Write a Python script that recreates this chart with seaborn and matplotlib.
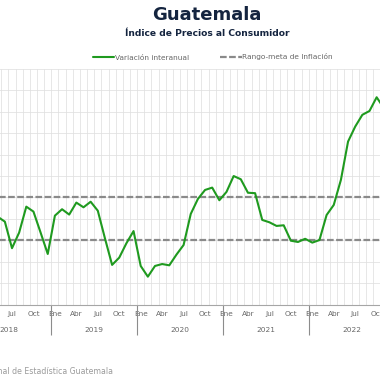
import numpy as np
import pandas as pd
import matplotlib
matplotlib.use("Agg")
import matplotlib.pyplot as plt
import matplotlib.transforms as mtransforms
import seaborn as sns

# Variación interanual del IPC (%), mayo 2018 - noviembre 2022
inflacion = [
    4.10, 3.87, 2.63, 3.36, 4.57, 4.34, 3.36, 2.36,                          # 2018 may-dic
    4.15, 4.45, 4.20, 4.76, 4.54, 4.80, 4.38, 3.09, 1.85, 2.19, 2.86, 3.43,  # 2019
    1.80, 1.30, 1.80, 1.89, 1.83, 2.33, 2.78, 4.23, 4.93, 5.35, 5.46, 4.87,  # 2020
    5.26, 6.00, 5.85, 5.22, 5.20, 3.95, 3.84, 3.67, 3.70, 2.98, 2.92, 3.07,  # 2021
    2.89, 3.01, 4.18, 4.65, 5.82, 7.61, 8.31, 8.86, 9.04, 9.68, 9.18,        # 2022 ene-nov
]
fechas = pd.date_range("2018-05-01", periods=len(inflacion), freq="MS")
meta_min, meta_max = 3.0, 5.0

anios = [2018, 2019, 2020, 2021, 2022]
meses_tick = ["Ene", "Abr", "Jul", "Oct"]

COLORS = {
    "linea": "#1f9a1f",
    "meta": "#8a8a8a",
    "titulo": "#14243f",
    "texto": "#666666",
    "grid": "#e0e0e0",
}

df = pd.DataFrame({"fecha": fechas, "valor": inflacion})
df["mes"] = (df["fecha"].dt.year - anios[0]) * 12 + df["fecha"].dt.month - 1

sns.set_style("white")
plt.rcParams["font.family"] = ["DejaVu Sans"]

W, H = 380, 380
fig = plt.figure(figsize=(3.8, 3.8), dpi=100)

# the source image is a crop: the axes run past the left and right edges
x_pix0, px_mes = -30.9, 7.15
xmin, xmax = -0.5, 59.5
left_px = x_pix0 + px_mes * xmin
right_px = x_pix0 + px_mes * xmax
bottom_px, top_px = 304.5, 69.0
ax = fig.add_axes([left_px / W, (H - bottom_px) / H,
                   (right_px - left_px) / W, (bottom_px - top_px) / H])

sns.lineplot(data=df, x="mes", y="valor", ax=ax, color=COLORS["linea"],
             linewidth=1.5, label="Variación interanual", legend=False)
for v in (meta_min, meta_max):
    ax.axhline(v, color=COLORS["meta"], linestyle=(0, (3.0, 1.1)), linewidth=1.6,
               label="Rango-meta de Inflación" if v == meta_min else None, zorder=1.5)

ax.set_xlim(xmin, xmax)
ax.set_ylim(0, 11)
ax.set_yticks(np.arange(0, 12, 1))
ax.set_yticklabels([])
ax.tick_params(axis="y", length=0)

ticks = [12 * k + 3 * j for k in range(len(anios)) for j in range(4)]
ax.set_xticks(ticks)
ax.set_xticklabels(meses_tick * len(anios), fontsize=5.3, color=COLORS["texto"])
ax.set_xticks(np.arange(xmin, xmax + 1, 1), minor=True)
ax.tick_params(axis="x", which="both", length=0, pad=5)
ax.set_xlabel("")
ax.set_ylabel("")

ax.grid(True, which="major", axis="y", color=COLORS["grid"], linewidth=0.55)
ax.grid(True, which="minor", axis="x", color=COLORS["grid"], linewidth=0.55)
ax.grid(False, which="major", axis="x")
ax.set_axisbelow(True)

sns.despine(ax=ax, left=True, top=True, right=True)
ax.spines["bottom"].set_color("#a6a6a6")
ax.spines["bottom"].set_linewidth(0.8)

# year separators and year labels under the month labels
trans = mtransforms.blended_transform_factory(ax.transData, ax.transAxes)
alto_ax = bottom_px - top_px
ax.vlines([12 * k - 0.5 for k in range(len(anios) + 1)], -30.5 / alto_ax, 0,
          transform=trans, color="#8c8c8c", linewidth=0.8, clip_on=False)
for k, a in enumerate(anios):
    ax.text(12 * k + 5.5, -(330 - bottom_px) / alto_ax, str(a), transform=trans,
            ha="center", va="center", fontsize=5.3, color=COLORS["texto"])

fig.text(207 / W, 1 - 15 / H, "Guatemala", ha="center", va="center",
         fontsize=13, fontweight="bold", color=COLORS["titulo"])
fig.text(207 / W, 1 - 34 / H, "Índice de Precios al Consumidor", ha="center",
         va="center", fontsize=6.6, fontweight="bold", color=COLORS["titulo"])

handles, labels = ax.get_legend_handles_labels()
fig.legend(handles, labels, loc="center", bbox_to_anchor=(213 / W, 1 - 57 / H),
           ncol=2, frameon=False, fontsize=5.3, handlelength=2.9,
           handletextpad=0.1, columnspacing=4.2, labelcolor=COLORS["texto"])

fig.text(113 / W, 1 - 372 / H, "Fuente: Instituto Nacional de Estadística Guatemala",
         ha="right", va="center", fontsize=5.6, color="#9a9a9a")

fig.savefig("out.png", dpi=100, facecolor="white")
